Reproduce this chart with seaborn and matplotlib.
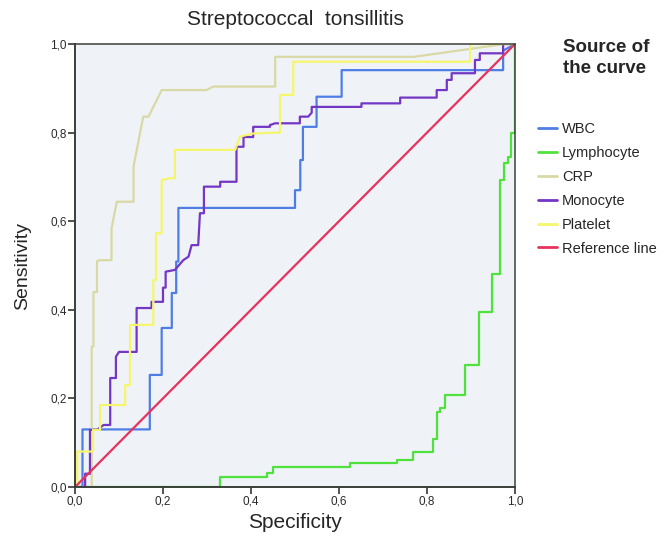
import seaborn as sns
import pandas as pd
import matplotlib.pyplot as plt

# ROC curve points (1 - specificity, sensitivity)
wbc_x = [0, 0.017, 0.017, 0.17, 0.17, 0.197, 0.197, 0.22, 0.22, 0.23, 0.23, 0.235, 0.235, 0.5, 0.5,
         0.512, 0.512, 0.518, 0.518, 0.549, 0.549, 0.606, 0.606, 0.973, 0.973, 1]
wbc_y = [0, 0, 0.13, 0.13, 0.253, 0.253, 0.359, 0.359, 0.438, 0.438, 0.509, 0.509, 0.63, 0.63, 0.67,
         0.67, 0.738, 0.738, 0.813, 0.813, 0.881, 0.881, 0.941, 0.941, 0.985, 1]

lympho_x = [0, 0.33, 0.33, 0.436, 0.436, 0.45, 0.45, 0.625, 0.625, 0.731, 0.731, 0.769, 0.769, 0.814,
            0.814, 0.822, 0.822, 0.83, 0.83, 0.841, 0.841, 0.886, 0.886, 0.919, 0.919, 0.947, 0.947,
            0.966, 0.966, 0.975, 0.975, 0.985, 0.985, 0.992, 0.992, 1, 1]
lympho_y = [0, 0, 0.023, 0.023, 0.031, 0.031, 0.046, 0.046, 0.055, 0.055, 0.062, 0.062, 0.078, 0.078,
            0.108, 0.108, 0.17, 0.17, 0.178, 0.178, 0.208, 0.208, 0.275, 0.275, 0.396, 0.396, 0.481,
            0.481, 0.693, 0.693, 0.731, 0.731, 0.746, 0.746, 0.80, 0.80, 1]

crp_x = [0, 0.038, 0.038, 0.042, 0.042, 0.05, 0.05, 0.057, 0.083, 0.083, 0.095, 0.133, 0.133, 0.155,
         0.167, 0.197, 0.299, 0.314, 0.455, 0.455, 0.77, 0.977, 1]
crp_y = [0, 0, 0.317, 0.317, 0.44, 0.44, 0.51, 0.512, 0.512, 0.584, 0.644, 0.644, 0.723, 0.836,
         0.836, 0.896, 0.896, 0.904, 0.904, 0.971, 0.971, 1.0, 1]

mono_x = [0, 0.023, 0.023, 0.034, 0.034, 0.05, 0.065, 0.08, 0.08, 0.093, 0.093, 0.1, 0.14, 0.14, 0.174,
          0.174, 0.2, 0.2, 0.206, 0.206, 0.227, 0.246, 0.258, 0.265, 0.28, 0.284, 0.293, 0.293, 0.33,
          0.33, 0.367, 0.367, 0.383, 0.383, 0.405, 0.405, 0.443, 0.443, 0.455, 0.511, 0.511, 0.53,
          0.538, 0.538, 0.651, 0.651, 0.739, 0.739, 0.822, 0.822, 0.845, 0.845, 0.856, 0.856, 0.909,
          0.909, 0.92, 0.92, 0.973, 0.973, 1]
mono_y = [0, 0, 0.03, 0.03, 0.129, 0.129, 0.14, 0.14, 0.246, 0.246, 0.294, 0.305, 0.305, 0.404, 0.404,
          0.418, 0.418, 0.45, 0.45, 0.486, 0.49, 0.512, 0.52, 0.546, 0.546, 0.618, 0.618, 0.678, 0.678,
          0.689, 0.689, 0.768, 0.768, 0.79, 0.79, 0.813, 0.813, 0.817, 0.821, 0.821, 0.836, 0.836,
          0.845, 0.858, 0.858, 0.866, 0.866, 0.879, 0.879, 0.896, 0.896, 0.919, 0.919, 0.934, 0.934,
          0.964, 0.964, 0.979, 0.979, 1.0, 1]

plt_x = [0, 0.005, 0.005, 0.041, 0.041, 0.057, 0.057, 0.114, 0.114, 0.125, 0.125, 0.178, 0.178, 0.184,
         0.184, 0.197, 0.197, 0.216, 0.227, 0.227, 0.364, 0.375, 0.405, 0.455, 0.466, 0.466, 0.496,
         0.496, 0.898, 0.898, 1]
plt_y = [0, 0, 0.08, 0.08, 0.129, 0.129, 0.185, 0.185, 0.23, 0.23, 0.366, 0.366, 0.467, 0.467, 0.573,
         0.573, 0.693, 0.697, 0.697, 0.761, 0.761, 0.791, 0.798, 0.80, 0.80, 0.885, 0.885, 0.96,
         0.96, 1.0, 1]

ref_x = [0, 1]
ref_y = [0, 1]

curve_names = ["WBC", "Lymphocyte", "CRP", "Monocyte", "Platelet", "Reference line"]
curve_colors = ["#4f7de6", "#4fe23c", "#d9d9a6", "#7436c4", "#f6f66c", "#e8325e"]
tick_vals = [0.0, 0.2, 0.4, 0.6, 0.8, 1.0]
tick_labels = ["0,0", "0,2", "0,4", "0,6", "0,8", "1,0"]

xs = [wbc_x, lympho_x, crp_x, mono_x, plt_x, ref_x]
ys = [wbc_y, lympho_y, crp_y, mono_y, plt_y, ref_y]
frames = []
for name, x, y in zip(curve_names, xs, ys):
    d = pd.DataFrame({"x": x, "y": y})
    d["curve"] = name
    frames.append(d)
df = pd.concat(frames, ignore_index=True)

sns.set_theme(style="white")
plt.rcParams["font.family"] = ["Liberation Sans", "DejaVu Sans"]

fig = plt.figure(figsize=(6.65, 5.39), dpi=100)
ax = fig.add_axes([75 / 665, 52 / 539, 440 / 665, 443 / 539])
ax.set_facecolor("#eff3f7")

sns.lineplot(data=df, x="x", y="y", hue="curve", hue_order=curve_names,
             palette=dict(zip(curve_names, curve_colors)), sort=False,
             estimator=None, linewidth=1.6, ax=ax)

ax.set_xlim(0, 1)
ax.set_ylim(0, 1)
ax.set_xticks(tick_vals)
ax.set_xticklabels(tick_labels)
ax.set_yticks(tick_vals)
ax.set_yticklabels(tick_labels)
ax.tick_params(axis="both", direction="out", length=5, width=1.2, color="#333333",
               labelsize=8.5, labelcolor="#2a2a2a", pad=1, bottom=True, left=True)
for side, sp in ax.spines.items():
    sp.set_color("#3a3f3a")
    sp.set_linewidth(1.4 if side in ("left", "bottom") else 1.1)

ax.set_title("Streptococcal  tonsillitis", fontsize=15, pad=14)
ax.set_xlabel("Specificity", fontsize=15, labelpad=4)
ax.set_ylabel("Sensitivity", fontsize=14, labelpad=14)

fig.text(563 / 665, 1 - 39 / 539, "Source of\nthe curve", fontsize=13.5, fontweight="bold",
         va="top", ha="left", linespacing=1.3)
leg = ax.legend(loc="upper left", bbox_to_anchor=(538 / 665, 1 - 122 / 539),
                bbox_transform=fig.transFigure, frameon=False, fontsize=10.5,
                handlelength=1.3, handletextpad=0.35, labelspacing=0.68, borderpad=0, borderaxespad=0)
for line in leg.get_lines():
    line.set_linewidth(2)

plt.savefig("out.png", dpi=100)
plt.close()
